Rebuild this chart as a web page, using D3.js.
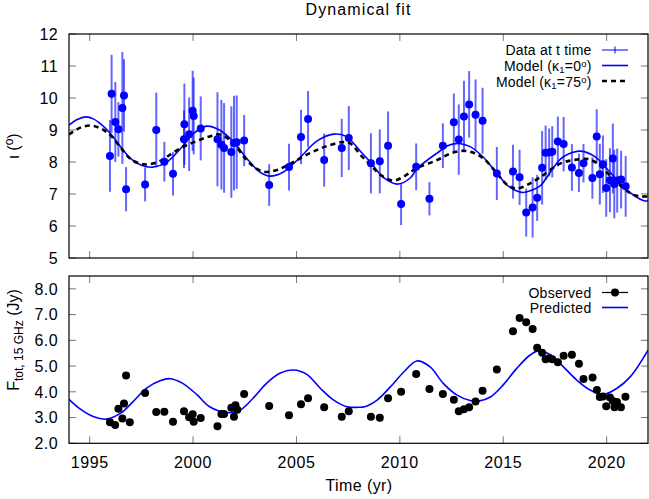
<!DOCTYPE html>
<html>
<head>
<meta charset="utf-8">
<script src="https://cdn.jsdelivr.net/npm/d3@7"></script>
<style>
body { margin: 0; background: #fff; }
text { font-family: "Liberation Sans", Arial, sans-serif; fill: #000; }
</style>
</head>
<body>
<svg width="649" height="499"></svg>
<script>
// observed epochs and inclination (deg) with errors
var tObs = [1995.98, 1996.06, 1996.24, 1996.39, 1996.58, 1996.66, 1996.76, 1997.68, 1998.22, 1998.61,
    1999.03, 1999.58, 1999.56, 1999.81, 1999.98, 2000.03, 2000.37, 2001.18, 2001.37, 2001.50,
    2001.85, 2001.98, 2002.11, 2002.47, 2003.68, 2004.64, 2005.22, 2005.56, 2006.34, 2007.19,
    2007.53, 2008.60, 2009.03, 2009.43, 2010.06, 2010.79, 2011.43, 2012.08, 2012.61, 2012.85,
    2013.10, 2013.35, 2013.66, 2014.00, 2014.69, 2015.47, 2015.79, 2016.11, 2016.42, 2016.64,
    2016.88, 2017.05, 2017.22, 2017.37, 2017.64, 2017.92, 2018.32, 2018.66, 2018.88, 2019.31,
    2019.52, 2019.67, 2019.82, 2019.98, 2020.16, 2020.30, 2020.37, 2020.51, 2020.70, 2020.92];
var iota = [8.19, 10.13, 9.25, 9.02, 9.69, 10.08, 7.15, 7.30, 9.00, 8.01,
    7.63, 9.18, 8.71, 8.87, 9.60, 9.44, 9.05, 8.71, 8.54, 8.44,
    8.31, 8.59, 8.62, 8.67, 7.28, 7.84, 8.78, 9.34, 8.06, 8.44,
    8.75, 7.96, 8.02, 8.51, 6.69, 7.85, 6.85, 8.51, 9.24, 8.70,
    9.42, 9.80, 9.48, 9.29, 7.64, 7.70, 7.52, 6.42, 6.58, 6.88,
    7.82, 8.29, 8.30, 8.32, 8.64, 8.56, 7.83, 7.66, 7.96, 7.50,
    8.80, 7.62, 7.93, 7.19, 7.43, 8.11, 7.31, 7.42, 7.45, 7.24];
var iotaErr = [1.12, 1.22, 1.25, 0.85, 1.75, 1.13, 0.69, 0.53, 1.17, 0.62,
    0.68, 1.27, 0.90, 1.15, 1.25, 1.20, 1.00, 1.47, 1.40, 1.40,
    1.43, 1.48, 1.46, 0.80, 0.65, 0.73, 0.85, 0.88, 0.83, 0.91,
    1.00, 0.94, 1.00, 1.07, 0.66, 0.73, 0.52, 0.70, 0.90, 1.10,
    1.12, 1.04, 1.10, 1.03, 0.83, 0.84, 0.86, 0.75, 0.94, 0.72,
    1.15, 0.85, 0.75, 0.80, 0.78, 0.85, 0.73, 0.60, 0.60, 0.65,
    0.85, 0.95, 0.90, 0.90, 1.00, 1.09, 1.07, 1.00, 0.90, 0.95];

// model curves
var tModel0 = [1994.0, 1994.4, 1994.8, 1995.2, 1995.6, 1996.0, 1996.5, 1997.0, 1997.5, 1998.05,
    1998.7, 1999.4, 2000.0, 2000.65, 2001.3, 2001.95, 2002.6, 2003.2, 2003.7, 2004.35,
    2005.2, 2006.0, 2006.8, 2007.4, 2008.1, 2008.6, 2009.2, 2009.9, 2010.5, 2010.85,
    2011.8, 2012.4, 2012.85, 2013.4, 2014.05, 2014.7, 2015.3, 2015.9, 2016.5, 2016.8,
    2017.4, 2017.75, 2018.15, 2018.75, 2019.45, 2020.08, 2020.74, 2021.38, 2021.8, 2022.0];
var iotaModel0 = [9.15, 9.33, 9.41, 9.34, 9.15, 8.89, 8.47, 8.10, 7.90, 7.84,
    7.98, 8.42, 8.88, 9.12, 8.99, 8.63, 8.11, 7.70, 7.56, 7.68,
    8.16, 8.66, 8.87, 8.80, 8.33, 7.98, 7.52, 7.31, 7.50, 7.80,
    8.28, 8.53, 8.58, 8.48, 8.14, 7.64, 7.22, 7.05, 7.15, 7.26,
    7.80, 8.08, 8.25, 8.34, 8.16, 7.74, 7.27, 6.93, 6.79, 6.78];
var tModel75 = [1994.0, 1994.5, 1995.0, 1995.5, 1996.0, 1996.5, 1997.0, 1997.5, 1997.9, 1998.5,
    1999.0, 1999.6, 2000.2, 2000.8, 2001.3, 2001.9, 2002.5, 2003.0, 2003.5, 2004.1,
    2004.8, 2005.6, 2006.4, 2007.2, 2007.6, 2008.1, 2008.6, 2009.1, 2009.7, 2010.2,
    2010.8, 2011.8, 2012.5, 2013.1, 2013.6, 2014.1, 2014.7, 2015.2, 2015.65, 2016.2,
    2016.8, 2017.75, 2018.4, 2019.1, 2019.6, 2020.2, 2020.7, 2021.2, 2021.6, 2022.0];
var iotaModel75 = [8.86, 9.06, 9.14, 9.06, 8.84, 8.45, 8.08, 7.94, 7.93, 8.06,
    8.28, 8.50, 8.66, 8.80, 8.86, 8.62, 8.13, 7.82, 7.69, 7.76,
    7.98, 8.26, 8.48, 8.62, 8.58, 8.22, 7.90, 7.58, 7.42, 7.55,
    7.80, 8.06, 8.28, 8.35, 8.28, 8.08, 7.64, 7.28, 7.17, 7.30,
    7.53, 7.95, 8.06, 8.09, 7.93, 7.55, 7.25, 7.00, 6.93, 6.92];

// 15 GHz total flux density (Jy)
var tFlux = [1995.98, 1996.23, 1996.39, 1996.58, 1996.66, 1996.76, 1996.94, 1997.68, 1998.22, 1998.61,
    1999.03, 1999.56, 1999.81, 1999.98, 2000.03, 2000.37, 2001.18, 2001.37, 2001.50, 2001.85,
    2001.98, 2002.05, 2002.14, 2002.47, 2003.68, 2004.64, 2005.22, 2005.56, 2006.34, 2007.19,
    2007.53, 2008.60, 2009.03, 2009.43, 2010.06, 2010.79, 2011.43, 2012.08, 2012.61, 2012.85,
    2013.10, 2013.35, 2013.66, 2014.00, 2014.69, 2015.47, 2015.79, 2016.11, 2016.42, 2016.64,
    2016.88, 2017.05, 2017.22, 2017.37, 2017.64, 2017.92, 2018.32, 2018.66, 2018.88, 2019.32,
    2019.53, 2019.67, 2019.82, 2019.98, 2020.16, 2020.30, 2020.38, 2020.50, 2020.69, 2020.91];
var flux = [2.82, 2.71, 3.34, 2.96, 3.55, 4.63, 2.82, 3.95, 3.22, 3.23,
    2.84, 3.25, 3.01, 3.13, 2.84, 2.98, 2.66, 3.14, 3.14, 3.38,
    3.03, 3.48, 3.30, 3.92, 3.45, 3.09, 3.52, 3.75, 3.40, 3.03,
    3.25, 3.03, 2.99, 3.75, 4.00, 4.69, 4.11, 3.92, 3.69, 3.25,
    3.32, 3.40, 3.62, 4.04, 4.87, 6.35, 6.87, 6.70, 6.44, 5.71,
    5.52, 5.27, 5.30, 5.27, 5.15, 5.40, 5.44, 5.09, 4.50, 4.56,
    4.07, 3.80, 3.82, 3.44, 3.78, 3.64, 3.40, 3.60, 3.40, 3.81];
var tPred = [1994.0, 1994.5, 1995.2, 1995.8, 1996.5, 1997.1, 1997.75, 1998.4, 1998.9, 1999.5,
    2000.2, 2000.8, 2001.7, 2002.3, 2002.9, 2003.55, 2004.2, 2004.85, 2005.5, 2006.15,
    2006.8, 2007.45, 2008.0, 2008.3, 2008.9, 2009.55, 2010.2, 2010.82, 2011.45, 2012.1,
    2012.75, 2013.4, 2013.8, 2014.4, 2015.0, 2015.65, 2016.3, 2016.7, 2017.3, 2017.9,
    2018.55, 2019.2, 2019.85, 2020.5, 2021.15, 2022.0];
var fluxPred = [3.71, 3.36, 3.03, 2.94, 3.17, 3.62, 4.14, 4.43, 4.51, 4.33,
    3.88, 3.42, 3.19, 3.30, 3.75, 4.33, 4.72, 4.85, 4.68, 4.14,
    3.68, 3.42, 3.40, 3.42, 3.68, 4.20, 4.78, 5.20, 4.98, 4.33,
    3.88, 3.66, 3.64, 3.81, 4.27, 4.91, 5.43, 5.59, 5.43, 4.98,
    4.46, 4.07, 3.90, 4.14, 4.59, 5.62];

var xTicks = [1995, 2000, 2005, 2010, 2015, 2020];
var iotaTicks = [5, 6, 7, 8, 9, 10, 11, 12];
var fluxTicks = [2, 3, 4, 5, 6, 7, 8];

var svg = d3.select('svg');
var plotL = 69, plotR = 648;
var x = d3.scaleLinear().domain([1994, 2022]).range([plotL, plotR]);
var yTop = d3.scaleLinear().domain([5, 12]).range([258, 34]);
var yBot = d3.scaleLinear().domain([2, 8.5]).range([443.3, 276]);
var tickLen = 7;

function zip(a, b, c) {
    return a.map(function (v, i) { return { t: v, v: b[i], e: c ? c[i] : 0 }; });
}

function frame(y, ticks, fmt, id) {
    var y0 = y.range()[0], y1 = y.range()[1];
    svg.append('clipPath').attr('id', id)
        .append('rect').attr('x', plotL).attr('y', y1).attr('width', plotR - plotL).attr('height', y0 - y1);

    var g = svg.append('g').attr('stroke', '#777').attr('stroke-width', 1);
    xTicks.forEach(function (t) {
        g.append('line').attr('x1', x(t)).attr('x2', x(t)).attr('y1', y0).attr('y2', y0 - tickLen);
        g.append('line').attr('x1', x(t)).attr('x2', x(t)).attr('y1', y1).attr('y2', y1 + tickLen);
    });
    ticks.forEach(function (v) {
        g.append('line').attr('x1', plotL).attr('x2', plotL + tickLen).attr('y1', y(v)).attr('y2', y(v));
        g.append('line').attr('x1', plotR).attr('x2', plotR - tickLen).attr('y1', y(v)).attr('y2', y(v));
    });

    svg.append('g').selectAll('text').data(ticks).enter().append('text')
        .attr('x', plotL - 11)
        .attr('y', function (d) { return y(d); })
        .attr('dy', '0.36em')
        .attr('text-anchor', 'end')
        .attr('font-size', 16)
        .attr('letter-spacing', 0.4)
        .text(fmt);
}

function border(y) {
    svg.append('rect')
        .attr('x', plotL).attr('y', y.range()[1])
        .attr('width', plotR - plotL).attr('height', y.range()[0] - y.range()[1])
        .attr('fill', 'none').attr('stroke', '#000').attr('stroke-width', 1.2);
}

function kappaLabel(g, y, val) {
    var t = g.append('text').attr('x', legX).attr('y', y).attr('text-anchor', 'end');
    t.append('tspan').text('Model (\u03ba');
    t.append('tspan').attr('font-size', 9.5).attr('dy', 2.5).text('1');
    t.append('tspan').attr('dy', -2.5).text('=' + val);
    t.append('tspan').attr('font-size', 9.5).attr('dy', -4).text('o');
    t.append('tspan').attr('dy', 4).text(')');
}

// ---- top panel ----
frame(yTop, iotaTicks, function (d) { return d; }, 'clipTop');

var line0 = d3.line().x(function (d) { return x(d.t); }).y(function (d) { return yTop(d.v); })
    .curve(d3.curveCatmullRom.alpha(0.5));

var gTop = svg.append('g').attr('clip-path', 'url(#clipTop)');
var obs = zip(tObs, iota, iotaErr);

gTop.selectAll('line.err').data(obs).enter().append('line')
    .attr('class', 'err')
    .attr('x1', function (d) { return x(d.t); })
    .attr('x2', function (d) { return x(d.t); })
    .attr('y1', function (d) { return yTop(d.v - d.e); })
    .attr('y2', function (d) { return yTop(d.v + d.e); })
    .attr('stroke', 'rgba(0,0,255,0.6)')
    .attr('stroke-width', 2);

gTop.append('path').datum(zip(tModel0, iotaModel0))
    .attr('d', line0).attr('fill', 'none').attr('stroke', '#0000ff').attr('stroke-width', 1.6);
gTop.append('path').datum(zip(tModel75, iotaModel75))
    .attr('d', line0).attr('fill', 'none').attr('stroke', '#000').attr('stroke-width', 2.6)
    .attr('stroke-dasharray', '5,4');

gTop.selectAll('circle').data(obs).enter().append('circle')
    .attr('cx', function (d) { return x(d.t); })
    .attr('cy', function (d) { return yTop(d.v); })
    .attr('r', 4)
    .attr('fill', '#0000ff');

border(yTop);

// top legend
var legX = 591.5, legS = 602, legE = 628;
var lg = svg.append('g').attr('font-size', 14).attr('letter-spacing', 0.2);
lg.append('text').attr('x', legX).attr('y', 55).attr('text-anchor', 'end').text('Data at t time');
lg.append('line').attr('x1', legS).attr('x2', legE).attr('y1', 50).attr('y2', 50)
    .attr('stroke', 'rgba(0,0,255,0.5)').attr('stroke-width', 2);
lg.append('line').attr('x1', 615).attr('x2', 615).attr('y1', 46.5).attr('y2', 53.5)
    .attr('stroke', 'rgba(0,0,255,0.5)').attr('stroke-width', 2);

kappaLabel(lg, 70.5, 0);
lg.append('line').attr('x1', legS).attr('x2', legE).attr('y1', 65.5).attr('y2', 65.5)
    .attr('stroke', '#0000ff').attr('stroke-width', 1.6);
kappaLabel(lg, 86.5, 75);
lg.append('line').attr('x1', legS).attr('x2', legE).attr('y1', 81).attr('y2', 81)
    .attr('stroke', '#000').attr('stroke-width', 2.6).attr('stroke-dasharray', '5,4');

// ---- bottom panel ----
frame(yBot, fluxTicks, d3.format('.1f'), 'clipBot');

var line1 = d3.line().x(function (d) { return x(d.t); }).y(function (d) { return yBot(d.v); })
    .curve(d3.curveCatmullRom.alpha(0.5));
var gBot = svg.append('g').attr('clip-path', 'url(#clipBot)');

gBot.append('path').datum(zip(tPred, fluxPred))
    .attr('d', line1).attr('fill', 'none').attr('stroke', '#0000ff').attr('stroke-width', 1.6);
gBot.selectAll('circle').data(zip(tFlux, flux)).enter().append('circle')
    .attr('cx', function (d) { return x(d.t); })
    .attr('cy', function (d) { return yBot(d.v); })
    .attr('r', 4)
    .attr('fill', '#000');

border(yBot);

svg.append('g').selectAll('text').data(xTicks).enter().append('text')
    .attr('x', function (d) { return x(d); })
    .attr('y', 468)
    .attr('text-anchor', 'middle')
    .attr('font-size', 16)
    .attr('letter-spacing', 0.6)
    .text(function (d) { return d; });

var lb = svg.append('g').attr('font-size', 14).attr('letter-spacing', 0.3);
lb.append('text').attr('x', legX).attr('y', 297.5).attr('text-anchor', 'end').text('Observed');
lb.append('line').attr('x1', legS).attr('x2', legE).attr('y1', 292.5).attr('y2', 292.5)
    .attr('stroke', '#000').attr('stroke-width', 1.2);
lb.append('circle').attr('cx', 615).attr('cy', 292.5).attr('r', 4).attr('fill', '#000');
lb.append('text').attr('x', legX).attr('y', 312.5).attr('text-anchor', 'end').text('Predicted');
lb.append('line').attr('x1', legS).attr('x2', legE).attr('y1', 307.5).attr('y2', 307.5)
    .attr('stroke', '#0000ff').attr('stroke-width', 1.6);

// ---- titles ----
svg.append('text').attr('x', 358.5).attr('y', 15).attr('text-anchor', 'middle')
    .attr('font-size', 16).attr('letter-spacing', 1.1).text('Dynamical fit');
svg.append('text').attr('x', 359).attr('y', 491).attr('text-anchor', 'middle')
    .attr('font-size', 16).attr('letter-spacing', 0.4).text('Time (yr)');

var ly = svg.append('text').attr('transform', 'translate(19,146) rotate(-90)')
    .attr('text-anchor', 'middle').attr('font-size', 16);
ly.append('tspan').text('\u03b9 (');
ly.append('tspan').attr('font-size', 12).attr('dy', -6).text('o');
ly.append('tspan').attr('dy', 6).text(')');

var lf = svg.append('text').attr('transform', 'translate(19,340) rotate(-90)')
    .attr('text-anchor', 'middle').attr('font-size', 16);
lf.append('tspan').text('F');
lf.append('tspan').attr('font-size', 12).attr('dy', 4).text('tot, 15 GHz');
lf.append('tspan').attr('dy', -4).text(' (Jy)');
</script>
</body>
</html>
